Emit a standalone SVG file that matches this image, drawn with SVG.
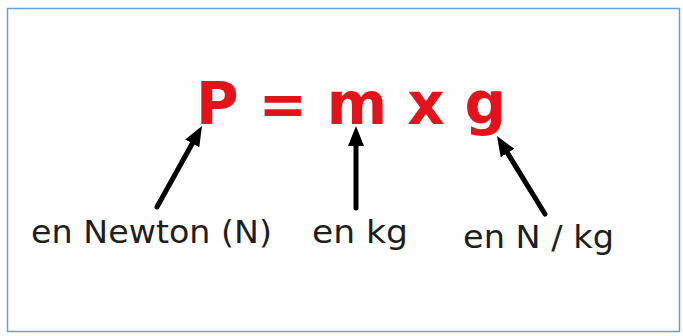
<svg xmlns="http://www.w3.org/2000/svg" width="683" height="336" viewBox="0 0 683 336">
<style>
.frame{fill:#fff;stroke:#6a9fd8;stroke-width:1.5}
.formula{font-family:"DejaVu Sans",Verdana,sans-serif;font-weight:bold;font-size:58px;fill:#e3121b}
.label{font-family:"DejaVu Sans",Verdana,sans-serif;font-size:32px;fill:#1e1e1e}
.arrow{stroke:#000;stroke-width:5;fill:none;stroke-linecap:round;marker-end:url(#head)}
</style>
<defs>
<marker id="head" markerUnits="userSpaceOnUse" markerWidth="20" markerHeight="16" refX="12" refY="8" orient="auto">
<path d="M0,0 L20,8 L0,16 z" fill="#000"/>
</marker>
</defs>
<rect class="frame" x="7.5" y="8.5" width="672" height="323"/>
<g id="formula"><text class="formula" x="196" y="124" textLength="310" lengthAdjust="spacing">P = m x g</text></g>
<g id="label-newton"><text class="label" x="31" y="243" textLength="241" lengthAdjust="spacingAndGlyphs">en Newton (N)</text></g>
<g id="label-kg"><text class="label" x="312" y="243" textLength="96" lengthAdjust="spacingAndGlyphs">en kg</text></g>
<g id="label-nkg"><text class="label" x="463" y="248" textLength="151" lengthAdjust="spacingAndGlyphs">en N / kg</text></g>
<g id="connectors">
<line class="arrow" x1="157" y1="207" x2="198.1" y2="133"/>
<line class="arrow" x1="356" y1="208" x2="356" y2="134"/>
<line class="arrow" x1="545" y1="214" x2="501.2" y2="142.8"/>
</g>
</svg>
